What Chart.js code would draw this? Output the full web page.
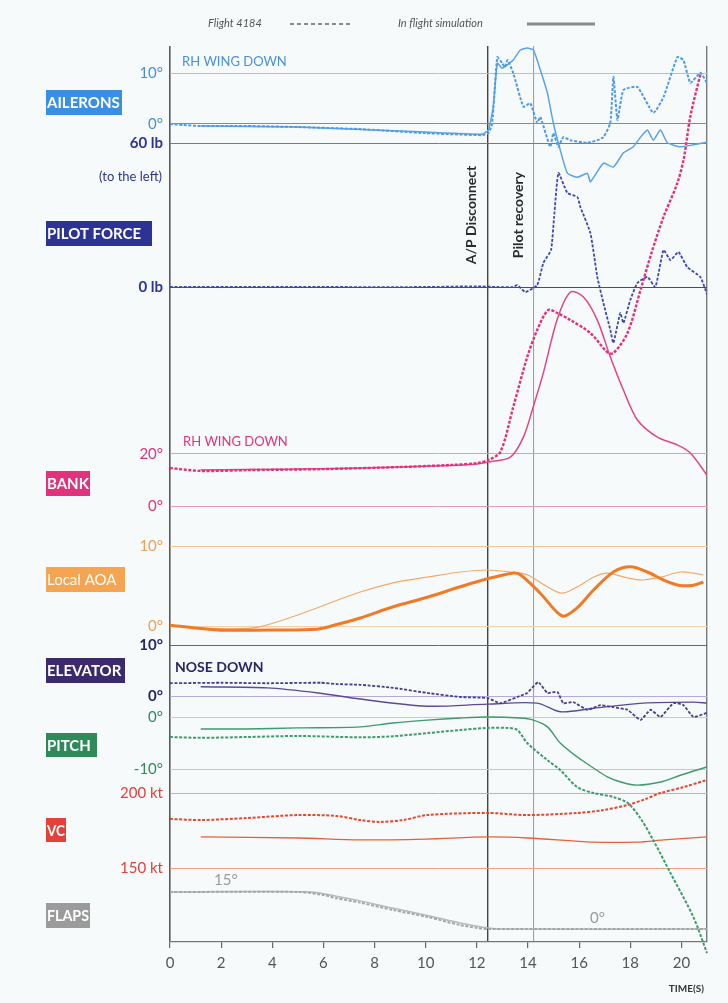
<!DOCTYPE html>
<html>
<head>
<meta charset="utf-8">
<script src="https://cdn.jsdelivr.net/npm/chart.js@4.4.1/dist/chart.umd.min.js"></script>
<style>
  html, body { margin: 0; padding: 0; background: #f7fafa; }
  #wrap { position: relative; width: 728px; height: 1003px; }
</style>
</head>
<body>
<div id="wrap"><canvas id="c" width="728" height="1003"></canvas></div>
<script>
// ---- time samples (s) and recorded / simulated values ----
const xTickTimes = [0, 2, 4, 6, 8, 10, 12, 14, 16, 18, 20];
const markerTimes = [0, 12.43, 14.2, 21];   // frame, A/P disconnect, pilot recovery, frame

// Ailerons (deg, RH wing down positive)
const ailFlightT = [0, 0.5, 1.2, 3, 5, 7.4, 10, 12.2, 12.45, 12.6, 12.8, 12.99, 13.1, 13.2, 13.42, 13.82, 14.09, 14.36, 14.48, 14.87, 14.99, 15.19, 15.38, 15.66, 16.32, 16.71, 16.95, 17.22, 17.34, 17.5, 17.73, 18.28, 18.9, 19.3, 19.84, 20.08, 20.35, 20.74, 21.0];
const ailFlight  = [0, -0.2, -0.4, -0.4, -0.6, -1.0, -1.8, -2.2, -1.8, 0.2, 13.2, 12.0, 11.2, 12.6, 10.1, 3.4, 4.1, 0.2, 1.4, -4.5, -1.8, -4.5, -2.6, -3.2, -3.7, -3.2, -2.6, 0.2, 9.3, 0.8, 6.7, 7.3, 2.2, 5.3, 13.2, 12.6, 8.1, 10.1, 8.1];
const ailSimT = [1.2, 5, 10, 12.2, 12.45, 12.64, 12.8, 12.99, 13.42, 13.7, 13.97, 14.21, 14.48, 14.76, 14.99, 15.26, 15.54, 15.93, 16.32, 16.44, 16.95, 17.34, 17.73, 18.12, 18.40, 18.67, 18.90, 19.18, 19.45, 19.96, 20.47, 21.0];
const ailSim  = [-0.4, -0.6, -1.6, -2.0, -1.2, 3.4, 12.0, 11.0, 12.6, 14.6, 15.0, 14.6, 10.7, 6.1, 0.2, -5.1, -9.7, -10.5, -9.7, -11.4, -7.7, -8.5, -5.7, -4.5, -2.6, -1.2, -3.2, -1.2, -3.7, -4.5, -4.1, -3.6];

// Pilot wheel force (lb, to the left positive)
const forceT = [0, 5, 10, 12.0, 12.8, 13.42, 13.58, 13.9, 14.36, 14.6, 14.9, 15.02, 15.19, 15.54, 15.93, 16.05, 16.44, 16.71, 16.95, 17.22, 17.34, 17.61, 17.73, 18.0, 18.28, 18.67, 18.98, 19.30, 19.57, 19.88, 20.23, 20.74, 21.0];
const forceLb = [0, 0, 0, 0.3, 0, 0, 0.8, -2.1, 0.8, 10, 15.4, 29, 47.5, 39.2, 37.5, 33.3, 22.5, 4.2, -6.7, -17.9, -23.3, -10.8, -15, -5.4, 1.7, 4.2, 0, 15.4, 11.2, 14.6, 8.3, 4.2, -3];

// Bank angle (deg, RH wing down positive)
const bankFlightT = [0, 1.2, 3, 6, 9, 11, 12.0, 12.45, 12.92, 13.42, 13.97, 14.36, 14.79, 15.15, 15.66, 16.44, 17.10, 17.34, 17.89, 18.40, 18.85, 19.30, 19.84, 20.1, 20.35, 20.74];
const bankFlight  = [14.6, 13.5, 13.8, 14.2, 15.0, 15.8, 16.5, 17.7, 20.8, 38, 57.3, 67.7, 75.4, 74.2, 71.5, 66.5, 59.2, 58.8, 66.5, 83.1, 98, 111.2, 124.2, 134, 150, 166];
const bankSimT = [1.2, 3, 6, 9, 11, 12.0, 12.45, 13.31, 13.82, 14.2, 14.60, 15.15, 15.66, 16.17, 16.71, 17.22, 17.73, 18.28, 19.06, 19.84, 20.35, 21.0];
const bankSim  = [13.8, 14.0, 14.3, 15.0, 15.6, 16.2, 16.9, 18.8, 26.5, 38, 51.2, 72, 82.3, 80.4, 71.5, 57.3, 44.6, 33.1, 26.5, 23.5, 20.4, 11.9];

// Local angle of attack (deg)
const aoaFlightT = [0, 1.84, 3.8, 5.75, 6.6, 7.44, 8.73, 10.06, 11.35, 12.41, 13.39, 13.7, 14.48, 15.34, 15.93, 16.56, 17.34, 18.0, 18.67, 19.3, 19.88, 20.47, 20.86];
const aoaFlight  = [0.1, -0.5, -0.5, -0.4, 0.25, 1.0, 2.4, 3.6, 4.9, 5.9, 6.6, 6.4, 4.1, 1.25, 2.3, 4.5, 6.75, 7.4, 6.75, 5.75, 5.1, 5.1, 5.5];
const aoaSimT = [1.2, 3.5, 7.44, 8.73, 10.06, 11.35, 12.41, 13.31, 13.97, 14.76, 15.34, 15.93, 16.56, 17.1, 17.89, 18.51, 19.18, 19.96, 20.47, 20.86];
const aoaSim  = [-0.3, -0.1, 4.25, 5.4, 6.1, 6.75, 7.0, 6.75, 6.4, 4.9, 4.1, 4.9, 6.1, 6.6, 6.0, 5.75, 6.1, 6.75, 6.6, 6.4];

// Elevator (deg, nose down positive)
const elevFlightT = [0, 2, 3.8, 5.9, 6.5, 7.44, 8.73, 10.06, 11.35, 12.41, 12.92, 13.58, 13.97, 14.4, 14.76, 15.15, 15.38, 15.77, 16.32, 16.83, 17.34, 17.89, 18.4, 18.79, 19.18, 19.69, 20.08, 20.47, 21.0];
const elevFlight  = [2.5, 2.6, 2.5, 2.6, 2.35, 2.2, 1.6, 0.6, -0.2, -0.4, -1.4, -0.2, 0.6, 2.7, 0.6, 0.8, -1.4, -1.2, -2.7, -1.8, -2.2, -2.7, -4.7, -2.7, -4.1, -1.4, -1.8, -4.1, -3.3];
const elevSimT = [1.2, 3.8, 5.8, 7.44, 10.06, 12.41, 14.36, 15.26, 16.56, 18.5, 20.47, 21.0];
const elevSim  = [1.8, 1.6, 0.6, -0.6, -2.0, -1.6, -1.4, -3.1, -2.4, -1.4, -1.2, -1.4];

// Pitch attitude (deg)
const pitchFlightT = [0, 1.2, 3, 5, 7.44, 8.73, 10.06, 11.35, 12.41, 13.19, 13.58, 13.97, 14.76, 15.26, 15.93, 16.56, 17.34, 17.89, 18.4, 18.9, 19.57, 20.47, 21.0];
const pitchFlight  = [-3.85, -4.0, -3.85, -3.65, -3.9, -3.7, -3.1, -2.5, -2.1, -2.1, -2.5, -5.0, -8.3, -10.2, -13.5, -14.6, -15.4, -16.5, -19.5, -23.7, -30, -38.5, -45.4];
const pitchSimT = [1.2, 3, 5, 7.44, 8.73, 10.06, 11.35, 12.41, 13.7, 14.21, 14.76, 15.26, 15.93, 16.56, 17.10, 17.7, 18.28, 19.18, 19.96, 21.0];
const pitchSim  = [-2.3, -2.3, -2.1, -1.9, -1.15, -0.6, -0.2, 0, -0.2, -0.6, -1.9, -5.0, -7.7, -9.8, -11.5, -12.6, -13.1, -12.5, -11.2, -9.6];

// Computed airspeed (kt)
const vcFlightT = [0, 1.2, 3, 5, 6.5, 7.44, 8.2, 9.12, 10.06, 12.41, 13.97, 15.93, 16.9, 17.89, 18.6, 19.18, 20.1, 21.0];
const vcFlight  = [182.7, 182, 183.3, 185.3, 184.7, 182, 180.7, 182, 185.3, 186.7, 185.3, 186.7, 188.5, 192, 196, 200, 204, 208.7];
const vcSimT = [1.2, 5, 7.44, 10, 12.41, 14, 16.56, 18.28, 19.3, 21.0];
const vcSim  = [170.7, 170, 168.7, 169.3, 170.7, 170, 167.3, 167.3, 168.7, 170.7];

// Flaps (deg)
const flapsFlightT = [0, 5.1, 6, 6.5, 7.44, 8.73, 10.06, 11.35, 12.02, 12.5, 21.0];
const flapsFlight  = [15, 15, 13.8, 12.5, 10.7, 7.7, 4.9, 1.6, 0.4, 0, 0];
const flapsSimT = [0, 5.5, 6.5, 7.44, 8.73, 10.06, 11.35, 12.3, 12.8, 21.0];
const flapsSim  = [15, 15, 13.3, 11.4, 8.4, 5.5, 2.4, 0.6, 0, 0];

// Reference levels drawn as grid lines on each strip
const ailTicks = [0, 10];
const forceTicks = [0, 60];
const bankTicks = [0, 20];
const aoaTicks = [0, 10];
const elevTicks = [0, 10];
const pitchTicks = [-10, 0];
const vcTicks = [150, 200];

// ---- layout: each strip shares the plot height; two anchor levels fix its band ----
const PLOT_TOP = 46, PLOT_BOTTOM = 942;
const stripAnchors = {
  ail:   [0, 124, 10, 73.3],
  force: [0, 287, 60, 143],
  bank:  [0, 506, 20, 454],
  aoa:   [0, 626, 10, 546],
  elev:  [0, 696, 10, 645],
  pitch: [0, 717, -10, 769],
  vc:    [150, 868, 200, 793],
  flaps: [0, 929, 15, 892]
};
function stripRange(a) {
  const [v1, p1, v2, p2] = a;
  const s = (p1 - p2) / (v2 - v1);
  return { min: v1 - (PLOT_BOTTOM - p1) / s, max: v1 + (p1 - PLOT_TOP) / s };
}

const FONT = 'Lato, "DejaVu Sans", sans-serif';

function yAxis(key, ticks, fmt, labelColor, gridColors, weight) {
  const r = stripRange(stripAnchors[key]);
  return {
    type: 'linear', position: 'left', min: r.min, max: r.max,
    display: ticks.length > 0,
    afterBuildTicks: s => { s.ticks = ticks.map(v => ({ value: v })); },
    afterFit: s => { s.width = 0; },
    grid: { drawTicks: false, color: c => gridColors[c.index] || 'transparent', lineWidth: 1 },
    border: { display: false },
    ticks: {
      autoSkip: false, padding: 7, color: labelColor,
      font: { family: FONT, size: 15, weight: weight || 'normal' },
      callback: v => fmt(v)
    }
  };
}

const pts = (t, v) => t.map((x, i) => ({ x: x, y: v[i] }));

function flightLine(label, t, v, axis, color, width, extra) {
  return Object.assign({
    label, data: pts(t, v), yAxisID: axis, xAxisID: 'x',
    borderColor: color, borderWidth: width || 2, borderDash: [3, 1.6],
    pointRadius: 0, tension: 0.15, fill: false
  }, extra || {});
}
function simLine(label, t, v, axis, color, width, extra) {
  return Object.assign({
    label, data: pts(t, v), yAxisID: axis, xAxisID: 'x',
    borderColor: color, borderWidth: width || 1.4,
    pointRadius: 0, tension: 0.3, fill: false
  }, extra || {});
}

const datasets = [
  flightLine('Ailerons flight', ailFlightT, ailFlight, 'yAil', '#4d9be6', 2),
  simLine('Ailerons sim', ailSimT, ailSim, 'yAil', '#5aa2e8', 1.5, { tension: 0.15 }),
  flightLine('Pilot force flight', forceT, forceLb, 'yForce', '#3f48b0', 1.8),
  flightLine('Bank flight', bankFlightT, bankFlight, 'yBank', '#e3307c', 2.4, { tension: 0.3 }),
  simLine('Bank sim', bankSimT, bankSim, 'yBank', '#e0458a', 1.5),
  simLine('AOA flight', aoaFlightT, aoaFlight, 'yAoa', '#f07a25', 3),
  simLine('AOA sim', aoaSimT, aoaSim, 'yAoa', '#f3a868', 1.2),
  flightLine('Elevator flight', elevFlightT, elevFlight, 'yElev', '#4a3c8c', 1.8),
  simLine('Elevator sim', elevSimT, elevSim, 'yElev', '#5b4a96', 1.4),
  flightLine('Pitch flight', pitchFlightT, pitchFlight, 'yPitch', '#3f9a6c', 2, { clip: false, tension: 0.3 }),
  simLine('Pitch sim', pitchSimT, pitchSim, 'yPitch', '#3f9a6c', 1.4),
  flightLine('VC flight', vcFlightT, vcFlight, 'yVc', '#e6452e', 2, { tension: 0.3 }),
  simLine('VC sim', vcSimT, vcSim, 'yVc', '#e8603a', 1.3),
  flightLine('Flaps flight', flapsFlightT, flapsFlight, 'yFlaps', '#a5a5a5', 2, { tension: 0.25 }),
  simLine('Flaps sim', flapsSimT, flapsSim, 'yFlaps', '#b8b8b8', 1.5)
];

// strip tags on the left
const tags = [
  { text: 'AILERONS',    x: 46, y: 90,  w: 76,  h: 25, bg: '#3a8fe5' },
  { text: 'PILOT FORCE', x: 46, y: 221, w: 106, h: 25, bg: '#2d3392' },
  { text: 'BANK',        x: 46, y: 471, w: 44,  h: 25, bg: '#e0327d' },
  { text: 'Local AOA',   x: 46, y: 567, w: 79,  h: 25, bg: '#f5a552', weight: 'normal' },
  { text: 'ELEVATOR',    x: 46, y: 658, w: 79,  h: 25, bg: '#3b2a6e' },
  { text: 'PITCH',       x: 46, y: 733, w: 51,  h: 24, bg: '#2f8a5a' },
  { text: 'VC',          x: 46, y: 818, w: 20,  h: 24, bg: '#e6403a' },
  { text: 'FLAPS',       x: 46, y: 903, w: 44,  h: 25, bg: '#9b9b9b' }
];

const decor = {
  id: 'decor',
  afterLayout(chart) {
    // the strip scales have no width of their own: let their labels use the left margin
    Object.values(chart.scales).forEach(s => {
      if (s.axis === 'y') { s.left = 0; s.width = s.right; }
    });
  },
  beforeDraw(chart) {
    const ctx = chart.ctx;
    ctx.save();
    ctx.fillStyle = '#f7fafa';
    ctx.fillRect(0, 0, chart.width, chart.height);
    ctx.restore();
  },
  afterDraw(chart) {
    const ctx = chart.ctx;
    const sc = chart.scales;
    ctx.save();

    // tags
    ctx.textBaseline = 'middle';
    ctx.textAlign = 'left';
    tags.forEach(t => {
      ctx.fillStyle = t.bg;
      ctx.fillRect(t.x, t.y, t.w, t.h);
      ctx.fillStyle = '#ffffff';
      ctx.font = (t.weight || 'bold') + ' 15px ' + FONT;
      ctx.fillText(t.text, t.x + 1, t.y + t.h / 2 + 1, t.w - 2);
    });

    // in-plot annotations
    ctx.font = '13px ' + FONT;
    ctx.fillStyle = '#4a90d9';
    ctx.fillText('RH WING DOWN', 182, 62, 130);
    ctx.fillStyle = '#e0327d';
    ctx.fillText('RH WING DOWN', 183, 442, 130);
    ctx.font = 'bold 14px ' + FONT;
    ctx.fillStyle = '#2d2466';
    ctx.fillText('NOSE DOWN', 175, 667, 102);

    ctx.font = '15px ' + FONT;
    ctx.fillStyle = '#9a9a9a';
    ctx.fillText('15°', 214, sc.yFlaps.getPixelForValue(15) - 12);
    ctx.fillText('0°', 590, sc.yFlaps.getPixelForValue(0) - 11);

    // second line of the force label
    ctx.textAlign = 'right';
    ctx.font = '13px ' + FONT;
    ctx.fillStyle = '#2d3392';
    ctx.fillText('(to the left)', 162, 177);

    // time unit
    ctx.font = 'bold 10px ' + FONT;
    ctx.fillStyle = '#333';
    ctx.fillText('TIME(S)', 704, 989, 50);

    // event labels
    const xs = sc.x;
    ctx.textAlign = 'center';
    ctx.font = 'bold 14px ' + FONT;
    ctx.fillStyle = '#2a2a2a';
    [['A/P Disconnect', markerTimes[1], -16, 113], ['Pilot recovery', markerTimes[2], -15, 96]].forEach(e => {
      ctx.save();
      ctx.translate(xs.getPixelForValue(e[1]) + e[2], 215);
      ctx.rotate(-Math.PI / 2);
      ctx.fillText(e[0], 0, 0, e[3]);
      ctx.restore();
    });

    // key
    ctx.textAlign = 'left';
    ctx.font = 'italic 11px ' + FONT;
    ctx.fillStyle = '#555';
    ctx.fillText('Flight 4184', 208, 23, 72);
    ctx.fillText('In flight simulation', 398, 23, 117);
    ctx.strokeStyle = '#666';
    ctx.lineWidth = 1.6;
    ctx.setLineDash([4, 3]);
    ctx.beginPath(); ctx.moveTo(290, 24); ctx.lineTo(353, 24); ctx.stroke();
    ctx.setLineDash([]);
    ctx.strokeStyle = '#8a8a8a';
    ctx.lineWidth = 3;
    ctx.beginPath(); ctx.moveTo(527, 24); ctx.lineTo(595, 24); ctx.stroke();

    ctx.restore();
  }
};

const markerColors = ['#5a5a5a', '#444444', '#a0a0a0', '#7a7a7a'];
const markerWidths = [1.6, 1.4, 1.1, 1.4];

new Chart(document.getElementById('c'), {
  type: 'line',
  data: { datasets },
  options: {
    responsive: false,
    animation: false,
    devicePixelRatio: 1,
    layout: { padding: { left: 170, right: 21, top: 46, bottom: 31 } },
    plugins: { legend: { display: false }, tooltip: { enabled: false } },
    scales: {
      x: {
        type: 'linear', position: 'bottom', min: 0, max: 21,
        afterBuildTicks: s => { s.ticks = xTickTimes.map(v => ({ value: v })); },
        afterFit: s => { s.height = 30; },
        grid: { drawOnChartArea: false, drawTicks: true, tickLength: 6, color: '#666', lineWidth: 1.2 },
        border: { display: true, color: '#777', width: 1.2 },
        ticks: { padding: 6, color: '#555', font: { family: FONT, size: 15 } }
      },
      xv: {
        type: 'linear', position: 'top', min: 0, max: 21,
        afterBuildTicks: s => { s.ticks = markerTimes.map(v => ({ value: v })); },
        afterFit: s => { s.height = 0; },
        grid: { drawTicks: false, color: c => markerColors[c.index], lineWidth: c => markerWidths[c.index] },
        border: { display: false },
        ticks: { display: false }
      },
      yAil: yAxis('ail', ailTicks, v => v + '°', '#4a90d9', ['#5d93db', '#9cc6ef']),
      yForce: yAxis('force', forceTicks, v => v + ' lb', '#2d3392', ['#3a48a8', '#5a7ad0'], 'bold'),
      yBank: yAxis('bank', bankTicks, v => v + '°', '#e0327d', ['#e79ab9', '#e79ab9']),
      yAoa: yAxis('aoa', aoaTicks, v => v + '°', '#f0a050', ['#f6d2ab', '#f5c690']),
      yElev: yAxis('elev', elevTicks, v => v + '°', '#2d2466', ['#b5a9de', '#6a5a9e'], 'bold'),
      yPitch: yAxis('pitch', pitchTicks, v => v + '°', '#2f8a5a', ['#a6d6cc', '#acdcbc']),
      yVc: yAxis('vc', vcTicks, v => v + ' kt', '#e6403a', ['#f2a184', '#f2a184']),
      yFlaps: yAxis('flaps', [], v => v + '°', '#999', [])
    }
  },
  plugins: [decor]
});
</script>
</body>
</html>
